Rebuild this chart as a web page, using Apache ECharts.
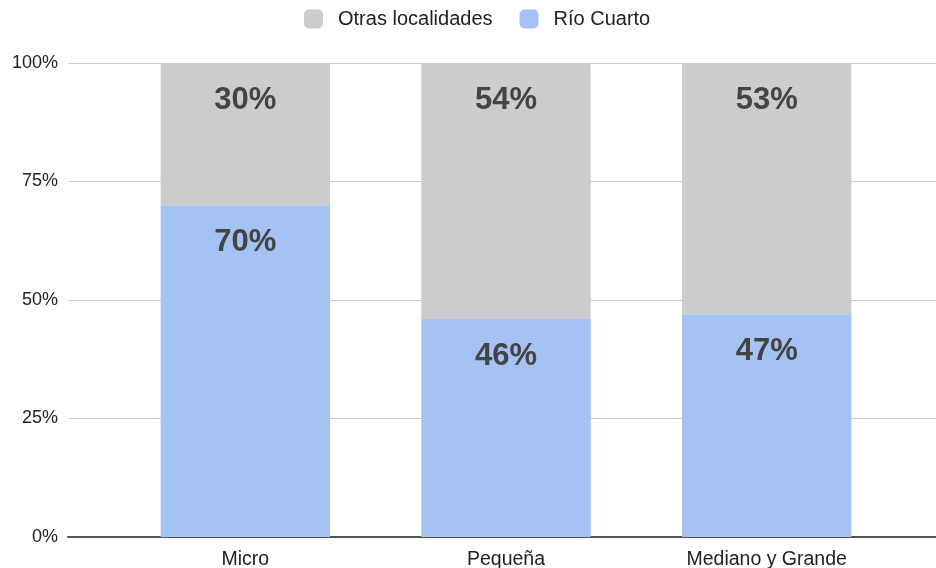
<!DOCTYPE html>
<html>
<head>
<meta charset="utf-8">
<script src="https://cdn.jsdelivr.net/npm/echarts@6/dist/echarts.min.js"></script>
<style>
  html, body { margin: 0; padding: 0; background: #fff; }
  #chart { width: 936px; height: 568px; }
</style>
</head>
<body>
<div id="chart"></div>
<script>
// datos
const categories = ['Micro', 'Pequeña', 'Mediano y Grande']
const rioCuarto = [70, 46, 47]
const otras = [30, 54, 53]
const yTicks = [0, 25, 50, 75, 100]

const chart = echarts.init(document.getElementById('chart'))

const segLabel = {
  show: true,
  position: 'insideTop',
  distance: 22,
  color: '#444',
  fontSize: 31,
  fontWeight: 'bold',
  fontFamily: 'Liberation Sans',
  formatter: p => p.value + '%'
}

chart.setOption({
  animation: false,
  textStyle: { fontFamily: 'Liberation Sans' },
  legend: {
    data: ['Otras localidades', 'Río Cuarto'],
    left: 304,
    top: 9,
    padding: 0,
    itemWidth: 19,
    itemHeight: 19,
    itemGap: 27,
    icon: 'roundRect',
    textStyle: { fontSize: 20, color: '#222', padding: [0, 0, 0, 10] }
  },
  grid: [
    // rejilla de fondo (líneas y eje)
    { left: 68, right: -10, top: 63, bottom: 31, outerBoundsMode: 'none' },
    // barras
    { left: 115, width: 782, top: 63, bottom: 31, outerBoundsMode: 'none' }
  ],
  xAxis: [
    {
      gridIndex: 0,
      type: 'value',
      min: 0,
      max: 1,
      axisLine: { show: true, lineStyle: { color: '#555', width: 2 } },
      axisTick: { show: false },
      axisLabel: { show: false },
      splitLine: { show: false }
    },
    {
      gridIndex: 1,
      type: 'category',
      data: categories,
      axisLine: { show: false },
      axisTick: { show: false },
      axisLabel: { color: '#222', fontSize: 19.5, margin: 13 }
    }
  ],
  yAxis: [
    {
      gridIndex: 0,
      type: 'value',
      min: yTicks[0],
      max: yTicks[yTicks.length - 1],
      interval: 25,
      axisLine: { show: false },
      axisTick: { show: false },
      axisLabel: { color: '#222', fontSize: 18, margin: 10, formatter: '{value}%' },
      splitLine: { lineStyle: { color: '#cccccc', width: 1 } }
    },
    {
      gridIndex: 1,
      type: 'value',
      min: 0,
      max: 100,
      show: false
    }
  ],
  series: [
    {
      name: 'Río Cuarto',
      type: 'bar',
      stack: 'total',
      xAxisIndex: 1,
      yAxisIndex: 1,
      barWidth: '65%',
      data: rioCuarto,
      itemStyle: { color: '#a4c2f4' },
      label: segLabel
    },
    {
      name: 'Otras localidades',
      type: 'bar',
      stack: 'total',
      xAxisIndex: 1,
      yAxisIndex: 1,
      barWidth: '65%',
      data: otras,
      itemStyle: { color: '#cccccc', borderRadius: [3, 3, 0, 0] },
      label: segLabel
    }
  ]
})
</script>
</body>
</html>
